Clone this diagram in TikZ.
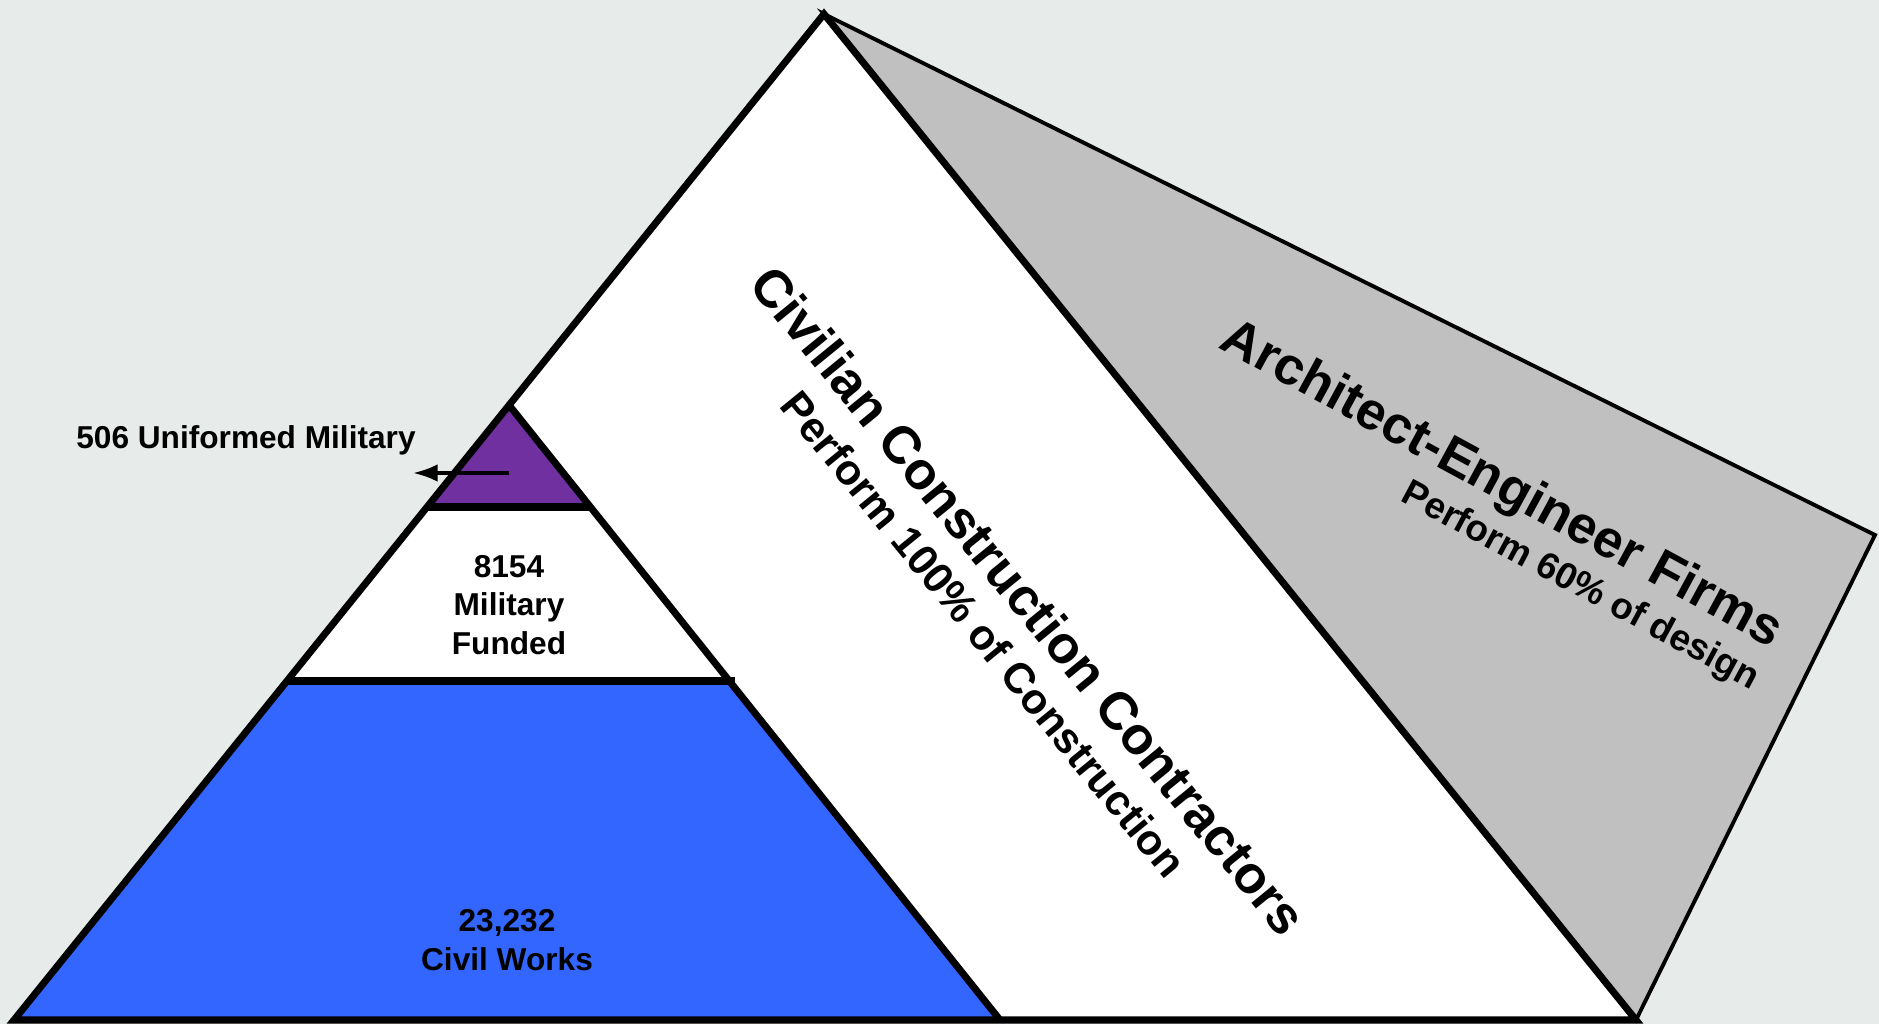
\documentclass[tikz,border=0pt]{standalone}
\usepackage{fontspec}
\setmainfont{Liberation Sans}
\usetikzlibrary{arrows.meta}

\definecolor{backdrop}{RGB}{231,235,233}
\definecolor{firmgray}{RGB}{192,192,192}
\definecolor{civblue}{RGB}{51,102,255}
\definecolor{milpurple}{RGB}{112,48,160}

\begin{document}
\begin{tikzpicture}[x=0.1mm,y=-0.1mm,
  edge/.style={line width=2pt, line join=miter},
  thinedge/.style={line width=1.1pt, line join=miter},
  lbl/.style={font=\bfseries\fontsize{9}{10.9}\selectfont, align=center},
  bigtext/.style={font=\bfseries\fontsize{15}{17}\selectfont},
  subtext/.style={font=\bfseries\fontsize{12.1}{14}\selectfont},
  smalltext/.style={font=\bfseries\fontsize{10.5}{12}\selectfont},
  pointer/.style={-{Latex[length=7pt,width=5pt]}, line width=1pt}]
  \useasboundingbox (0,0) rectangle (1879,1024);
  \fill[backdrop] (0,0) rectangle (1879,1024);

  \coordinate (apex) at (824,14);
  \coordinate (bl) at (14,1020);
  \coordinate (br) at (1636,1020);
  \coordinate (aecorner) at (1875,535);
  \coordinate (top) at (509,405);
  \coordinate (ibr) at (1000,1020);
  \coordinate (pl) at (427,507);
  \coordinate (pr) at (590,507);
  \coordinate (wl) at (287,681);
  \coordinate (wr) at (735,681);

  \draw[thinedge, fill=firmgray] (apex) -- (aecorner) -- (br) -- cycle;
  \fill[white] (apex) -- (br) -- (bl) -- cycle;
  \fill[civblue] (wl) -- (729,681) -- (ibr) -- (bl) -- cycle;
  \fill[milpurple] (top) -- (pr) -- (pl) -- cycle;

  \draw[edge] (top) -- (ibr);
  \draw[edge] (pl) -- (pr);
  \draw[edge] (wl) -- (wr);
  \draw[edge] (apex) -- (br) -- (bl) -- cycle;

  \node[lbl] (uniformed) at (246,440) {506 Uniformed Military};
  \node[lbl] (funded) at (509,605) {8154\\Military\\Funded};
  \node[lbl] (civilworks) at (507,940) {23,232\\Civil Works};

  \coordinate (milstart) at (509,473);
  \coordinate (miltip) at (413,473);
  \draw[pointer] (milstart) -- (miltip);

  \node[bigtext, rotate=-50.8] (contractors) at (1029,600) {Civilian Construction Contractors};
  \node[subtext, rotate=-50.8] (construction) at (984,634) {Perform 100\% of Construction};
  \node[bigtext, rotate=-28.5] (firms) at (1501,486) {Architect-Engineer Firms};
  \node[smalltext, rotate=-28.2] (design) at (1580,587) {Perform 60\% of design};
\end{tikzpicture}
\end{document}
